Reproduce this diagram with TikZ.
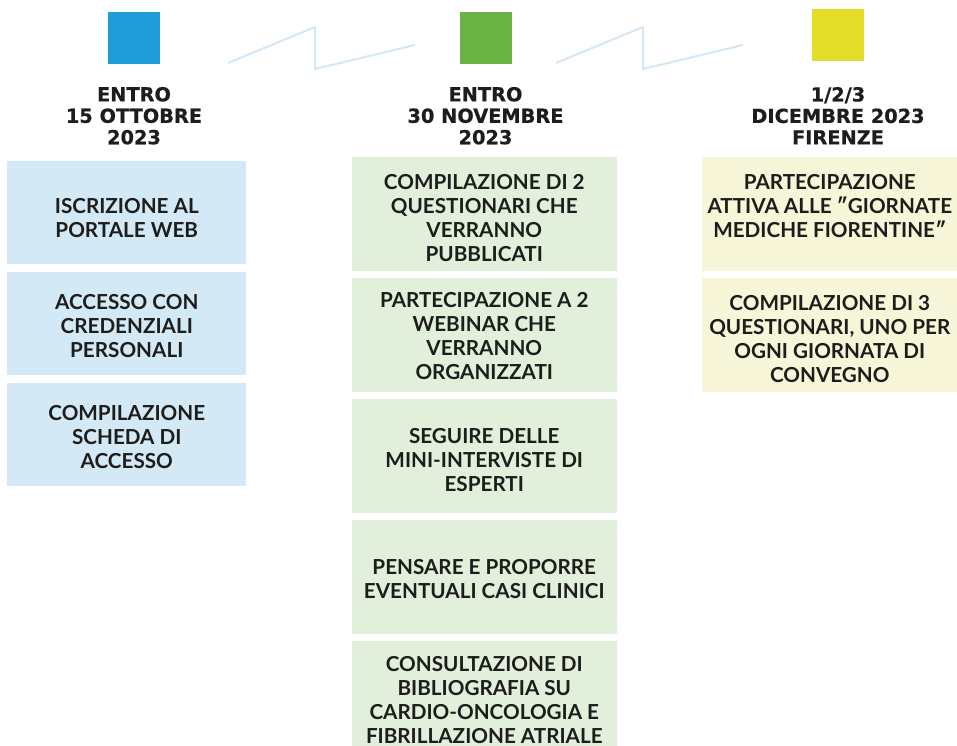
\documentclass[tikz,border=0pt]{standalone}
\usepackage{fontspec}
\setmainfont{Lato}
\newfontfamily\headfont{DejaVu Sans}[BoldFeatures={FakeBold=0.6}]
\definecolor{sqblue}{HTML}{1E9DD9}
\definecolor{sqgreen}{HTML}{6AB344}
\definecolor{sqyellow}{HTML}{E4DE29}
\definecolor{boxblue}{HTML}{D4E9F6}
\definecolor{boxgreen}{HTML}{E1EFDB}
\definecolor{boxyellow}{HTML}{F7F6D8}
\definecolor{zigcol}{HTML}{D3E8F6}
\definecolor{txt}{HTML}{1D1D1B}
\newcommand\tfix[1]{\rule{0pt}{#1pt}}
\tikzset{
  sq/.style={draw=none, minimum size=39pt, inner sep=0pt, anchor=north west},
  head/.style={font=\headfont\bfseries\fontsize{14.5pt}{16.1pt}\selectfont, text=txt, align=center, inner sep=0pt},
  boxtxt/.style={font=\bfseries\fontsize{15.5pt}{18pt}\selectfont, text=txt, align=center, inner sep=0pt, anchor=north west, draw=none},
  bbox/.style={boxtxt, fill=boxblue, minimum width=179.25pt, minimum height=77.25pt},
  gbox/.style={boxtxt, fill=boxgreen, minimum width=198.75pt, minimum height=85.5pt},
  ybox/.style={boxtxt, fill=boxyellow, minimum width=191.25pt, minimum height=85.5pt},
  zig/.style={draw=zigcol, line width=1.5pt, line join=miter}
}
\begin{document}
\begin{tikzpicture}[x=0.75pt,y=-0.75pt]
\useasboundingbox (0,0) rectangle (957,746);
% squares
\node[sq, fill=sqblue] (sq1) at (108,12) {};
\node[sq, fill=sqgreen] (sq2) at (460,12) {};
\node[sq, fill=sqyellow] (sq3) at (812,9) {};
% zigzag connectors
\coordinate (z1a) at (228,63);
\coordinate (z1b) at (315,27);
\coordinate (z1c) at (315,69);
\coordinate (z1d) at (415,45);
\coordinate (z2a) at (556,63);
\coordinate (z2b) at (643,27);
\coordinate (z2c) at (643,69);
\coordinate (z2d) at (743,45);
\draw[zig] (z1a) -- (z1b) -- (z1c) -- (z1d);
\draw[zig] (z2a) -- (z2b) -- (z2c) -- (z2d);
% headers
\node[head] (h1) at (134,115.75) {ENTRO\\15 OTTOBRE\\2023};
\node[head] (h2) at (485.5,115.75) {ENTRO\\30 NOVEMBRE\\2023};
\node[head] (h3) at (838,115.75) {1/2/3\\DICEMBRE 2023\\FIRENZE};
% column 1
\node[bbox] (b11) at (7,161) {\tfix{18.6}ISCRIZIONE AL\\PORTALE WEB};
\node[bbox] (b12) at (7,272) {\tfix{14.1}ACCESSO CON\\CREDENZIALI\\PERSONALI};
\node[bbox] (b13) at (7,383) {\tfix{14.1}COMPILAZIONE\\SCHEDA DI\\ACCESSO};
% column 2
\node[gbox] (b21) at (351.5,157) {\tfix{17.1}COMPILAZIONE DI 2\\QUESTIONARI CHE\\VERRANNO\\PUBBLICATI};
\node[gbox] (b22) at (351.5,278) {\tfix{12.6}PARTECIPAZIONE A 2\\WEBINAR CHE\\VERRANNO\\ORGANIZZATI};
\node[gbox] (b23) at (351.5,399) {\tfix{17.1}SEGUIRE DELLE\\MINI-INTERVISTE DI\\ESPERTI};
\node[gbox] (b24) at (351.5,520) {\tfix{14.1}PENSARE E PROPORRE\\EVENTUALI CASI CLINICI};
\node[gbox] (b25) at (351.5,641) {\tfix{14.1}CONSULTAZIONE DI\\BIBLIOGRAFIA SU\\CARDIO-ONCOLOGIA E\\FIBRILLAZIONE ATRIALE};
% column 3
\node[ybox] (b31) at (702,157) {PARTECIPAZIONE\\ATTIVA ALLE ″GIORNATE\\MEDICHE FIORENTINE″\\[-6pt]\mbox{}};
\node[ybox] (b32) at (702,278) {\tfix{17.1}COMPILAZIONE DI 3\\QUESTIONARI, UNO PER\\OGNI GIORNATA DI\\CONVEGNO};
\end{tikzpicture}
\end{document}
